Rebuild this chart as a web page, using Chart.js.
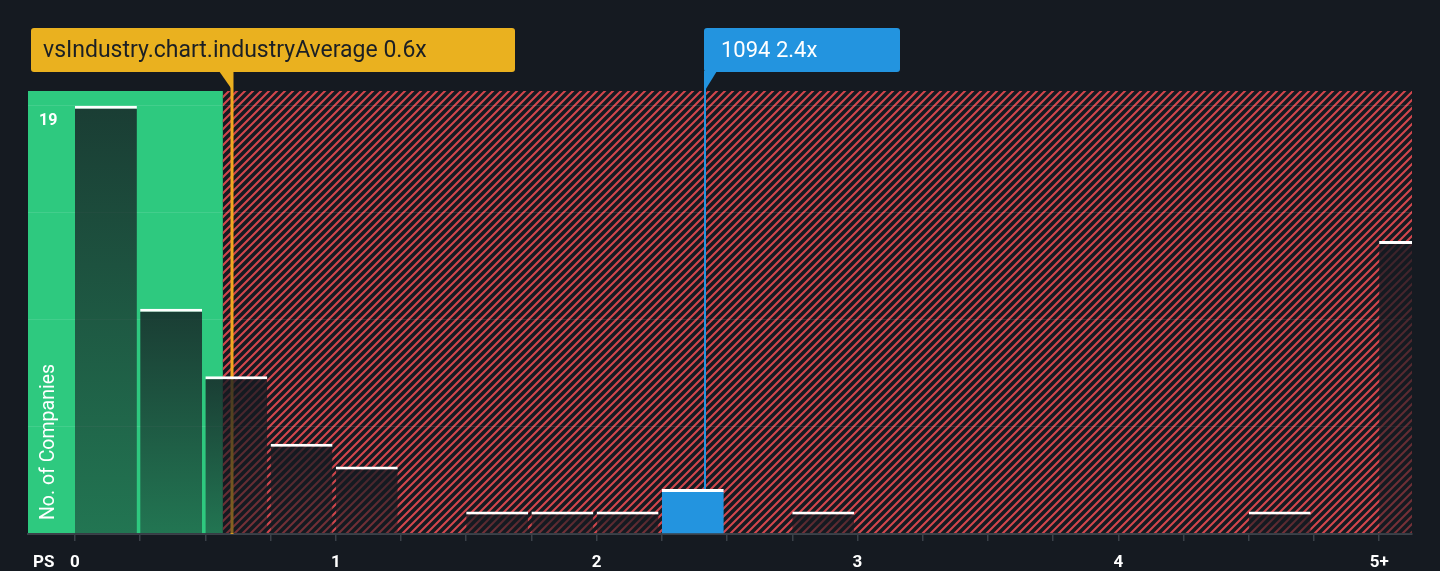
<!DOCTYPE html>
<html>
<head>
<meta charset="utf-8">
<script src="https://cdn.jsdelivr.net/npm/chart.js@4/dist/chart.umd.min.js"></script>
<style>
html,body{margin:0;padding:0;background:#151a21;overflow:hidden}
#wrap{width:1440px;height:571px;position:relative}
</style>
</head>
<body>
<div id="wrap"><canvas id="c" width="1440" height="571"></canvas></div>
<script>
// ---- data ----
const binStarts = [0,0.25,0.5,0.75,1,1.25,1.5,1.75,2,2.25,2.5,2.75,3,3.25,3.5,3.75,4,4.25,4.5,4.75,5];
const binWidth = 0.25;
const companyCounts = [19,10,7,4,3,0,1,1,1,2,0,1,0,0,0,0,0,0,1,0,13];
const xTickValues = [0,0.25,0.5,0.75,1,1.25,1.5,1.75,2,2.25,2.5,2.75,3,3.25,3.5,3.75,4,4.25,4.5,4.75,5];
const xLabelValues = [0,1,2,3,4,5];
const xLabelTexts = ['0','1','2','3','4','5+'];
const yTickValues = [0,4.75,9.5,14.25,19];
const yLabelValues = [19];
const xMin = -0.18, xMax = 5.126, yMax = 19.66;
const industryAverage = 0.6;
const greenZoneEnd = 0.567;
const companyValue = 2.415;
const industryLabel = 'vsIndustry.chart.industryAverage 0.6x';
const companyLabel = '1094 2.4x';
const yAxisTitle = 'No. of Companies';
const xAxisTitle = 'PS';

// ---- styles ----
const BG = '#151a21';
const GREEN = '#2ec97f';
const HATCH = '#d2474d';
const YELLOW = '#eab11f';
const ORANGE = '#f0a81f';
const BLUE = '#2394df';
const FONT = 'Roboto, "Open Sans", sans-serif';
const barPct = 0.95;

const highlightIndex = binStarts.findIndex(s => companyValue >= s && companyValue < s + binWidth);

const barData = binStarts.map((s, i) => ({x: s + binWidth * barPct / 2, y: companyCounts[i]}));

function makeHatch() {
  const p = document.createElement('canvas');
  p.width = 8; p.height = 8;
  const g = p.getContext('2d');
  g.strokeStyle = HATCH; g.lineWidth = 2.1;
  g.beginPath();
  g.moveTo(-2, 10); g.lineTo(10, -2);
  g.moveTo(-2, 2); g.lineTo(2, -2);
  g.moveTo(6, 10); g.lineTo(10, 6);
  g.stroke();
  return p;
}
const hatchCanvas = makeHatch();

function roundRect(ctx, x, y, w, h, r) {
  ctx.beginPath();
  ctx.moveTo(x + r, y);
  ctx.lineTo(x + w - r, y); ctx.quadraticCurveTo(x + w, y, x + w, y + r);
  ctx.lineTo(x + w, y + h - r); ctx.quadraticCurveTo(x + w, y + h, x + w - r, y + h);
  ctx.lineTo(x + r, y + h); ctx.quadraticCurveTo(x, y + h, x, y + h - r);
  ctx.lineTo(x, y + r); ctx.quadraticCurveTo(x, y, x + r, y);
  ctx.closePath();
}

const zonesPlugin = {
  id: 'zones',
  beforeDraw(chart) {
    const {ctx, chartArea: a, scales: {x}} = chart;
    const gx = x.getPixelForValue(greenZoneEnd);
    ctx.save();
    ctx.fillStyle = GREEN;
    ctx.fillRect(a.left, a.top, gx - a.left, a.bottom - a.top);
    ctx.fillStyle = ctx.createPattern(hatchCanvas, 'repeat');
    ctx.fillRect(gx, a.top, a.right - gx, a.bottom - a.top);
    ctx.restore();
  },
  beforeDatasetsDraw(chart) {
    const {ctx, chartArea: a, scales: {x}} = chart;
    const lx = Math.round(x.getPixelForValue(industryAverage)) + 1;
    ctx.save();
    ctx.strokeStyle = ORANGE; ctx.lineWidth = 3;
    ctx.beginPath(); ctx.moveTo(lx, a.top - 20); ctx.lineTo(lx, a.bottom); ctx.stroke();
    ctx.restore();
  },
  afterDraw(chart) {
    const {ctx, chartArea: a, scales: {x, y}} = chart;
    const boxTop = a.top - 63, boxH = 44, boxBottom = boxTop + boxH;
    // industry average label
    const lx = Math.round(x.getPixelForValue(industryAverage)) + 1;
    ctx.save();
    ctx.fillStyle = YELLOW;
    roundRect(ctx, lx - 201, boxTop, 484, boxH, 3); ctx.fill();
    ctx.beginPath();
    ctx.moveTo(lx - 13, boxBottom - 1); ctx.lineTo(lx + 1, boxBottom - 1); ctx.lineTo(lx + 1, a.top); ctx.closePath(); ctx.fill();
    ctx.fillStyle = '#1b1f25';
    ctx.font = '23px ' + FONT;
    ctx.textBaseline = 'middle'; ctx.textAlign = 'left';
    ctx.fillText(industryLabel, lx - 189, boxTop + boxH / 2 + 1);

    // company label
    const cx = Math.round(x.getPixelForValue(companyValue));
    const barTop = y.getPixelForValue(companyCounts[highlightIndex]);
    ctx.strokeStyle = BLUE; ctx.lineWidth = 2;
    ctx.beginPath(); ctx.moveTo(cx, boxBottom); ctx.lineTo(cx, barTop); ctx.stroke();
    ctx.fillStyle = BLUE;
    roundRect(ctx, cx - 1, boxTop, 196, boxH, 3); ctx.fill();
    ctx.beginPath();
    ctx.moveTo(cx - 1, boxBottom - 1); ctx.lineTo(cx + 12, boxBottom - 1); ctx.lineTo(cx - 1, a.top + 1); ctx.closePath(); ctx.fill();
    ctx.fillStyle = '#ffffff';
    ctx.font = '22px ' + FONT;
    ctx.fillText(companyLabel, cx + 16, boxTop + boxH / 2 + 1);

    // axis titles
    ctx.font = '19.5px ' + FONT;
    ctx.textAlign = 'center';
    ctx.translate(a.left + 21, a.bottom - 92);
    ctx.rotate(-Math.PI / 2);
    ctx.fillText(yAxisTitle, 0, 0);
    ctx.restore();

    ctx.save();
    ctx.fillStyle = '#ffffff';
    ctx.font = 'bold 17px ' + FONT;
    ctx.textBaseline = 'middle'; ctx.textAlign = 'left';
    ctx.fillText(xAxisTitle, a.left + 5, a.bottom + 29);
    ctx.restore();
  }
};

const chart = new Chart(document.getElementById('c'), {
  type: 'bar',
  data: {
    datasets: [{
      data: barData,
      barPercentage: barPct,
      categoryPercentage: 1,
      clip: 0,
      borderWidth: {top: 3, right: 0, bottom: 0, left: 0},
      borderColor: '#ffffff',
      borderSkipped: 'start',
      backgroundColor: (c) => {
        if (c.type !== 'data') return 'rgba(21,26,33,0.7)';
        if (c.dataIndex === highlightIndex) return BLUE;
        const ch = c.chart, ys = ch.scales.y;
        if (!ys || !c.parsed) return 'rgba(21,26,33,0.7)';
        const top = ys.getPixelForValue(c.parsed.y), bottom = ys.getPixelForValue(0);
        if (!(bottom > top) || !isFinite(top)) return 'rgba(21,26,33,0.7)';
        const g = ch.ctx.createLinearGradient(0, top, 0, bottom);
        g.addColorStop(0, 'rgba(21,26,33,0.8)');
        g.addColorStop(1, 'rgba(21,26,33,0.48)');
        return g;
      }
    }]
  },
  options: {
    responsive: false,
    animation: false,
    events: [],
    layout: {padding: {left: 6, right: 28, top: 91, bottom: -14.4}},
    plugins: {legend: {display: false}, tooltip: {enabled: false}},
    scales: {
      x: {
        type: 'linear', min: xMin, max: xMax, offset: false,
        afterBuildTicks: s => { s.ticks = xTickValues.map(v => ({value: v})); },
        grid: {offset: false, drawOnChartArea: false, drawTicks: true, tickLength: 7, color: '#3b4149', lineWidth: 1.5},
        border: {display: true, color: '#3b4149', width: 2},
        ticks: {
          autoSkip: false, maxRotation: 0, minRotation: 0, padding: 12,
          color: '#ffffff', font: {family: FONT, size: 17, weight: 'bold'},
          callback: v => { const k = xLabelValues.indexOf(v); return k >= 0 ? xLabelTexts[k] : ''; }
        }
      },
      y: {
        min: 0, max: yMax,
        afterBuildTicks: s => { s.ticks = yTickValues.map(v => ({value: v})); },
        grid: {drawTicks: false, color: 'rgba(255,255,255,0.1)', lineWidth: 1},
        border: {display: false},
        ticks: {
          mirror: true, padding: 11, labelOffset: 15, z: 1,
          color: '#ffffff', font: {family: FONT, size: 16, weight: 'bold'},
          callback: v => yLabelValues.includes(v) ? String(v) : ''
        }
      }
    }
  },
  plugins: [zonesPlugin]
});
</script>
</body>
</html>
